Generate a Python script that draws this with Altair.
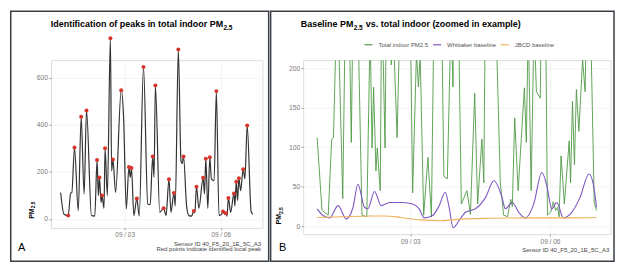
import altair as alt
import pandas as pd

FONT = "Liberation Sans"

# ---------------- data (hours since 09/01 00:00) ----------------
total_hours = [0, 2.5, 5.7, 7.5, 8.4, 10.4, 13.2, 15.4, 17.6, 19.4, 23.1, 25.6, 27.3, 28.3,
               29.1, 30.3, 31.0, 32.5, 33.3, 35.0, 37.3, 38.2, 39.2, 41.2, 45.4, 47.2, 49.2,
               51.2, 52.2, 53.1, 54.9, 57.1, 58.9, 62.1, 65.3, 67.1, 69.0, 70.0, 71.0, 74.3,
               77.2, 79.0, 81.2, 82.7, 84.9, 85.9, 88.2, 90.2, 91.1, 92.1, 94.4, 96.1, 98.1,
               99.8, 100.6, 101.8, 103.6, 106.8, 107.8, 108.8, 110.3, 111.8, 113.0, 115.0,
               116.7, 118.7, 120.4, 121.7, 122.9, 123.9, 124.7, 125.7, 127.4, 129.9, 130.6,
               131.6, 132.6, 133.6, 134.9, 136.8, 138.1, 139.8, 142.8, 144.0]
total_pm = [112, 20, 14, 110, 112, 303, 35, 434, 106, 461, 14, 12, 250, 99, 176, 70, 99, 45,
            300, 99, 768, 204, 252, 112, 547, 430, 42, 220, 176, 216, 14, 87, 12, 646, 63, 60,
            265, 176, 567, 28, 45, 15, 168, 28, 110, 55, 720, 247, 235, 265, 55, 14, 12, 34,
            25, 137, 45, 175, 106, 256, 45, 262, 170, 162, 543, 14, 18, 31, 20, 24, 12, 89,
            28, 108, 55, 158, 78, 173, 120, 211, 170, 397, 30, 20]

peak_hours = [5.7, 10.4, 15.4, 19.4, 27.3, 29.1, 31.0, 33.3, 37.3, 39.2, 45.4, 51.2, 53.1,
              57.1, 62.1, 69.0, 71.0, 77.2, 81.2, 84.9, 88.2, 92.1, 99.8, 101.8, 106.8,
              108.8, 111.8, 116.7, 121.7, 123.9, 125.7, 129.9, 131.6, 133.6, 136.8, 139.8]
peak_pm = [14, 303, 434, 461, 250, 176, 99, 300, 768, 252, 547, 220, 216, 87, 646, 265, 567,
           45, 168, 110, 720, 265, 34, 137, 175, 256, 262, 543, 31, 24, 89, 108, 158, 173,
           211, 397]

whit_hours = [0, 3.1, 6.5, 10.8, 15.0, 18.5, 21.0, 24.4, 26.1, 29.6, 33.0, 37.3, 44.1, 49.2,
              52.6, 55.2, 59.5, 62.9, 66.0, 68.0, 70.1, 73.1, 76.5, 81.6, 86.8, 91.1, 95.3,
              97.0, 100.5, 103.9, 107.3, 111.6, 115.8, 118.4, 120.9, 123.5, 126.9, 131.2,
              135.5, 140.1, 142.3, 144.0]
whit_pm = [22, 13.5, 10.5, 26, 9.3, 24, 53, 24, 22, 44, 26, 30, 30, 28, 22, 10.5, 13.5, 26,
           43, 24, -2, 7, 17.6, 22, 36.5, 57.5, 36.5, 22, 30, 17.6, 10.5, 28, 68, 51, 22, 30,
           10.5, 17.6, 36.5, 66, 53, 24]

jbcd_hours = [0, 12.3, 27.7, 35.4, 43.1, 53.3, 63.6, 73.8, 89.2, 109.7, 130.2, 144.0]
jbcd_pm = [11, 12, 13, 13, 11, 8, 7, 9, 10, 10.5, 10.5, 11]

tick_hours = [48, 120]
tick_labels = ["09 / 03", "09 / 06"]
a_y_ticks = [0, 200, 400, 600]
b_y_ticks = [0, 50, 100, 150, 200]
series_names = ["Total indoor PM2.5", "Whittaker baseline", "JBCD baseline"]
series_colors = ["#4f9a45", "#7e57c2", "#efb25a"]

# ---------------- tables ----------------
df_total = pd.DataFrame({"h": total_hours, "pm": total_pm})
df_peaks = pd.DataFrame({"h": peak_hours, "pm": peak_pm})
df_total_b = df_total.assign(series=series_names[0])
df_whit = pd.DataFrame({"h": whit_hours, "pm": whit_pm, "series": series_names[1]})
df_jbcd = pd.DataFrame({"h": jbcd_hours, "pm": jbcd_pm, "series": series_names[2]})
one = pd.DataFrame({"k": [0]})

label_expr = "''"
for v, l in reversed(list(zip(tick_hours, tick_labels))):
    label_expr = f"datum.value == {v} ? '{l}' : {label_expr}"

AX_LABEL = "#7a7a7a"
GRID = "#ececec"


def x_enc():
    return alt.X("h:Q", scale=alt.Scale(domain=[-7.2, 151.2], nice=False, zero=False),
                 axis=alt.Axis(values=tick_hours, labelExpr=label_expr, title=None,
                               domain=False, tickSize=2, tickColor="#999",
                               labelFontSize=6.5, labelColor=AX_LABEL, labelPadding=2,
                               grid=True, gridColor=GRID, gridWidth=0.6, labelFont=FONT))


def y_enc(domain, values):
    return alt.Y("pm:Q", scale=alt.Scale(domain=domain, nice=False, zero=False),
                 axis=alt.Axis(values=values, title=None, domain=False, tickSize=2,
                               tickColor="#999", labelFontSize=6.8, labelColor=AX_LABEL,
                               labelPadding=1.5, grid=True, gridColor=GRID, gridWidth=0.6,
                               labelFont=FONT))


def txt(text, x, y, size, weight="normal", align="left", color="black", angle=0):
    kw = dict(text=text, align=align, baseline="alphabetic", fontSize=size,
              fontWeight=weight, font=FONT, color=color)
    if angle:
        kw["angle"] = angle
    return alt.Chart(one).mark_text(**kw).encode(x=alt.value(x), y=alt.value(y))


def frame(x, x2, y, y2):
    return alt.Chart(one).mark_rect(filled=False, stroke="#3a3f46", strokeWidth=1.5).encode(
        x=alt.value(x), x2=alt.value(x2), y=alt.value(y), y2=alt.value(y2))


# ---------------- panel A ----------------
a_line = alt.Chart(df_total).mark_line(color="#333333", strokeWidth=1.2,
                                       interpolate="monotone").encode(
    x=x_enc(), y=y_enc([-38.4, 674.6], a_y_ticks))
a_pts = alt.Chart(df_peaks).mark_circle(color="#d7352b", size=16, opacity=1).encode(
    x="h:Q", y="pm:Q")

panel_a = alt.layer(
    a_line, a_pts,
    txt("Identification of peaks in total indoor PM", 173, -33, 9, "bold", "right"),
    txt("2.5", 173.3, -30.7, 6.5, "bold"),
    txt("PM", -17.2, 159.5, 7, "bold", angle=270),
    txt("2.5", -15.7, 149.0, 5, "bold", angle=270),
    txt("A", -33.2, 192, 11),
    txt("Sensor ID 40_F5_20_1E_5C_A3", 211.2, 186.5, 6, align="right", color="#444"),
    txt("Red points indicate identified local peak", 211.2, 192, 6, align="right", color="#444"),
    frame(-40.5, 218.8, -49.25, 202.05),
).properties(width=212.5, height=168.65)

# ---------------- panel B ----------------
color_b = alt.Color("series:N",
                    scale=alt.Scale(domain=series_names, range=series_colors),
                    legend=alt.Legend(orient="none", legendX=314.2, legendY=-20.5,
                                      direction="horizontal", title=None,
                                      symbolType="stroke", symbolSize=64,
                                      symbolStrokeWidth=1.3, labelFontSize=6,
                                      labelColor="#555", labelOffset=5, columnPadding=1,
                                      gridAlign="none", padding=0, labelFont=FONT))

b_total = alt.Chart(df_total_b).mark_line(strokeWidth=1, clip=True, opacity=0.9).encode(
    x=x_enc(), y=y_enc([-10, 210], b_y_ticks), color=color_b)
b_whit = alt.Chart(df_whit).mark_line(strokeWidth=1.1, clip=True,
                                      interpolate="monotone").encode(
    x="h:Q", y="pm:Q", color=color_b)
b_jbcd = alt.Chart(df_jbcd).mark_line(strokeWidth=1.1, clip=True,
                                      interpolate="monotone").encode(
    x="h:Q", y="pm:Q", color=color_b)

panel_b = alt.layer(
    b_total, b_whit, b_jbcd,
    txt("Baseline PM", 50.5, -33, 9, "bold", "right"),
    txt("2.5", 50.8, -30.7, 6.5, "bold"),
    txt("vs. total indoor (zoomed in example)", 63, -33, 9, "bold"),
    txt("PM", -22, 165.2, 7, "bold", angle=270),
    txt("2.5", -20.5, 154.7, 5, "bold", angle=270),
    txt("B", -24.3, 192, 11),
    txt("Sensor ID 40_F5_20_1E_5C_A3", 307.7, 193.2, 6, align="right", color="#444"),
    frame(-32.7, 312.5, -49.25, 202.05),
).properties(width=309, height=174.9)

chart = alt.hconcat(panel_a, panel_b, spacing=-1.5).properties(
    padding={"left": 1.25, "top": 0.75, "right": 0, "bottom": 0}
).configure_view(stroke="transparent").configure(font=FONT, background="white")

chart.save("out.html", embed_options={"renderer": "svg", "actions": False})
